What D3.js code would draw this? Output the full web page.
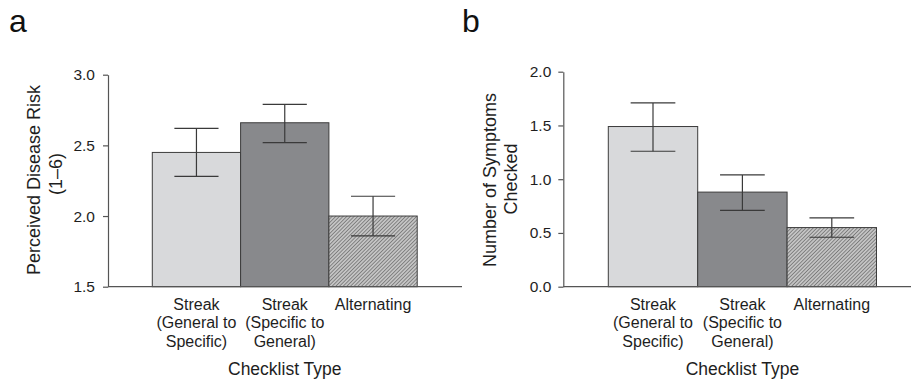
<!DOCTYPE html>
<html>
<head>
<meta charset="utf-8">
<script src="https://cdn.jsdelivr.net/npm/d3@7"></script>
<style>
  html, body { margin: 0; padding: 0; background: #fff; }
  svg { display: block; font-family: "Liberation Sans", Arial, sans-serif; }
</style>
</head>
<body>
<svg id="chart" width="911" height="379"></svg>
<script>
// ---- Data ----
const categories = ["Streak (General to Specific)", "Streak (Specific to General)", "Alternating"];
const categoryLines = [["Streak", "(General to", "Specific)"], ["Streak", "(Specific to", "General)"], ["Alternating"]];

const riskMeans = [2.45, 2.66, 2.00];
const riskLower = [2.28, 2.52, 1.86];
const riskUpper = [2.62, 2.79, 2.14];
const riskTicks = [1.5, 2.0, 2.5, 3.0];

const symptomMeans = [1.49, 0.88, 0.55];
const symptomLower = [1.26, 0.71, 0.46];
const symptomUpper = [1.71, 1.04, 0.64];
const symptomTicks = [0.0, 0.5, 1.0, 1.5, 2.0];

const panelLetters = ["a", "b"];
const yTitles = [["Perceived Disease Risk", "(1\u20136)"], ["Number of Symptoms", "Checked"]];
const xTitle = "Checklist Type";

// ---- Styles ----
const barFills = ["#d8d9db", "#88898c", "url(#hatch)"];
const textColor = "#1e1e1e";
const axisColor = "#555";

const svg = d3.select("#chart");
const defs = svg.append("defs");
const pat = defs.append("pattern")
  .attr("id", "hatch").attr("patternUnits", "userSpaceOnUse")
  .attr("width", 2.6).attr("height", 2.6)
  .attr("patternTransform", "rotate(45)");
pat.append("rect").attr("width", 2.6).attr("height", 2.6).attr("fill", "#c4c4c4");
pat.append("line").attr("x1", 0).attr("y1", 0).attr("x2", 0).attr("y2", 2.6)
  .attr("stroke", "#5a5a5a").attr("stroke-width", 1.2);

function panel(cfg) {
  const g = svg.append("g");
  const y = d3.scaleLinear().domain(cfg.domain).range([cfg.bottom, cfg.top]);
  const x = d3.scaleBand().domain(categories).range([cfg.barStart, cfg.barStart + 3 * cfg.barW]).padding(0);

  // bars
  g.selectAll("rect.bar").data(categories).enter().append("rect")
    .attr("x", d => x(d))
    .attr("y", (d, i) => y(cfg.means[i]))
    .attr("width", x.bandwidth())
    .attr("height", (d, i) => y(cfg.domain[0]) - y(cfg.means[i]))
    .attr("fill", (d, i) => barFills[i])
    .attr("stroke", "#3c3c3c").attr("stroke-width", 1);

  // error bars
  const eb = g.selectAll("g.eb").data(categories).enter().append("g").attr("stroke", "#3a3a3a").attr("stroke-width", 1.2);
  const cx = d => x(d) + x.bandwidth() / 2;
  const cap = x.bandwidth() / 4;
  eb.append("line").attr("x1", cx).attr("x2", cx)
    .attr("y1", (d, i) => y(cfg.lower[i])).attr("y2", (d, i) => y(cfg.upper[i]));
  eb.append("line").attr("x1", d => cx(d) - cap).attr("x2", d => cx(d) + cap)
    .attr("y1", (d, i) => y(cfg.upper[i])).attr("y2", (d, i) => y(cfg.upper[i]));
  eb.append("line").attr("x1", d => cx(d) - cap).attr("x2", d => cx(d) + cap)
    .attr("y1", (d, i) => y(cfg.lower[i])).attr("y2", (d, i) => y(cfg.lower[i]));

  // y axis
  const ax = g.append("g").attr("transform", `translate(${cfg.axisX},0)`)
    .call(d3.axisLeft(y).tickValues(cfg.ticks).tickFormat(d3.format(".1f")).tickSize(5).tickSizeOuter(0).tickPadding(cfg.pad));
  ax.select(".domain").attr("stroke", axisColor).attr("stroke-width", 1.2);
  ax.selectAll(".tick line").attr("stroke", axisColor).attr("stroke-width", 1.2);
  ax.selectAll(".tick text").attr("fill", textColor).style("font-size", "15.5px")
    .style("font-family", '"Liberation Sans", Arial, sans-serif');

  // x axis baseline
  g.append("line").attr("x1", cfg.axisX).attr("x2", cfg.xEnd)
    .attr("y1", y(cfg.domain[0])).attr("y2", y(cfg.domain[0]))
    .attr("stroke", axisColor).attr("stroke-width", 1.2);

  // category labels
  categories.forEach((c, i) => {
    const t = g.append("text").attr("text-anchor", "middle").attr("fill", textColor)
      .style("font-size", "16px");
    categoryLines[i].forEach((ln, j) => {
      t.append("tspan").attr("x", cx(c)).attr("y", 310 + j * 18.3).text(ln);
    });
  });

  // x title
  g.append("text").attr("x", (x.range()[0] + x.range()[1]) / 2).attr("y", 375)
    .attr("text-anchor", "middle").attr("fill", textColor).style("font-size", "17.5px").text(xTitle);

  // y title (rotated)
  cfg.yTitle.forEach((ln, j) => {
    g.append("text")
      .attr("transform", `translate(${cfg.titleX[j]},${cfg.titleY[j]}) rotate(-90)`)
      .attr("text-anchor", "middle").attr("fill", textColor).style("font-size", "18px").text(ln);
  });

  // panel letter
  g.append("text").attr("x", cfg.letterX).attr("y", 32).attr("fill", "#111")
    .style("font-size", "32px").text(cfg.letter);
}

panel({
  domain: [1.5, 3.0], top: 74.7, bottom: 286.7, barStart: 152.3, barW: 88.3,
  means: riskMeans, lower: riskLower, upper: riskUpper, ticks: riskTicks,
  axisX: 108, xEnd: 462, pad: 8, yTitle: yTitles[0], titleX: [40, 62], titleY: [180, 174],
  letter: panelLetters[0], letterX: 9
});
panel({
  domain: [0, 2.0], top: 71.7, bottom: 286.7, barStart: 608.3, barW: 89.4,
  means: symptomMeans, lower: symptomLower, upper: symptomUpper, ticks: symptomTicks,
  axisX: 563.3, xEnd: 911, pad: 7, yTitle: yTitles[1], titleX: [496, 517], titleY: [180, 179],
  letter: panelLetters[1], letterX: 462
});
</script>
</body>
</html>
